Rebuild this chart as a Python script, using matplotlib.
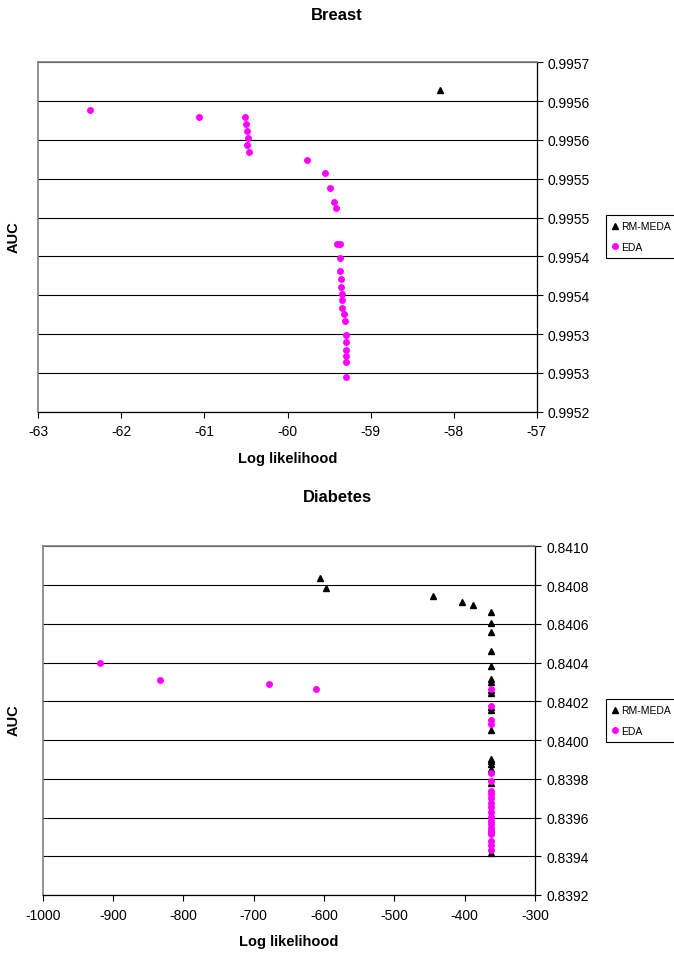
import matplotlib
matplotlib.use("Agg")
import matplotlib.pyplot as plt
import numpy as np

plt.rcParams['font.family'] = ['Liberation Sans', 'DejaVu Sans']

# Breast: log likelihood vs AUC
breast_rm_x = [-58.16]
breast_rm_y = [0.995614]
breast_eda_x = [-62.38, -61.07, -60.51, -60.50, -60.49, -60.48, -60.49, -60.46,
                -59.76, -59.55, -59.49, -59.44, -59.42, -59.40, -59.37,
                -59.37, -59.37, -59.36, -59.36, -59.34, -59.34, -59.34,
                -59.32, -59.31, -59.30, -59.30, -59.30, -59.30, -59.30, -59.30]
breast_eda_y = [0.995588, 0.995579, 0.995579, 0.995571, 0.995561, 0.995552, 0.995544, 0.995534,
                0.995524, 0.995507, 0.995488, 0.995470, 0.995462, 0.995416, 0.995416,
                0.995398, 0.995381, 0.995371, 0.995361, 0.995352, 0.995344, 0.995334,
                0.995326, 0.995317, 0.995299, 0.995290, 0.995280, 0.995272, 0.995264, 0.995245]
breast_yticks = [0.99520, 0.99525, 0.99530, 0.99535, 0.99540,
                 0.99545, 0.99550, 0.99555, 0.99560, 0.99565]
breast_ylabels = ['0.9952', '0.9953', '0.9953', '0.9954', '0.9954',
                  '0.9955', '0.9955', '0.9956', '0.9956', '0.9957']
breast_xticks = [-63, -62, -61, -60, -59, -58, -57]

# Diabetes: log likelihood vs AUC
diab_rm_x = [-605.7, -597.6, -444.6, -403.8, -388.6,
             -363, -363, -363, -363, -363, -363, -363, -363, -363, -363, -363, -363,
             -363, -363, -363, -363, -363, -363, -363]
diab_rm_y = [0.840835, 0.840786, 0.840742, 0.840714, 0.840699,
             0.840659, 0.840604, 0.840556, 0.840458, 0.840384, 0.840315, 0.840301, 0.840258,
             0.840243, 0.840169, 0.840155, 0.840052, 0.839902, 0.839890, 0.839876, 0.839851,
             0.839777, 0.839540, 0.839415]
diab_eda_x = [-918.5, -833.6, -677.8, -611.8,
              -363, -363, -363, -363, -363, -363, -363, -363, -363, -363, -363,
              -363, -363, -363, -363, -363, -363, -363, -363, -363, -363]
diab_eda_y = [0.840396, 0.840311, 0.840289, 0.840265,
              0.840263, 0.840177, 0.840105, 0.840083, 0.839828, 0.839790, 0.839738,
              0.839721, 0.839699, 0.839675, 0.839653, 0.839627, 0.839603, 0.839580,
              0.839567, 0.839546, 0.839529, 0.839515, 0.839480, 0.839458, 0.839432]
diab_yticks = [0.8392, 0.8394, 0.8396, 0.8398, 0.8400,
               0.8402, 0.8404, 0.8406, 0.8408, 0.8410]
diab_ylabels = ['0.8392', '0.8394', '0.8396', '0.8398', '0.8400',
                '0.8402', '0.8404', '0.8406', '0.8408', '0.8410']
diab_xticks = [-1000, -900, -800, -700, -600, -500, -400, -300]


def style_axes(ax, xticks, yticks, ylabels):
    ax.set_xlim(xticks[0], xticks[-1])
    ax.set_ylim(yticks[0], yticks[-1])
    ax.set_xticks(xticks)
    ax.set_xticklabels([str(t) for t in xticks])
    ax.set_yticks(yticks)
    ax.set_yticklabels(ylabels)
    ax.yaxis.tick_right()
    ax.tick_params(axis='both', direction='out', length=4, width=0.8,
                   labelsize=10, color='black')
    ax.tick_params(axis='y', pad=4)
    ax.tick_params(axis='x', pad=5)
    ax.grid(True, axis='y', color='black', linewidth=0.8)
    ax.set_axisbelow(True)
    for side in ('left', 'top'):
        ax.spines[side].set_color('#808080')
        ax.spines[side].set_linewidth(1.2)
    for side in ('right', 'bottom'):
        ax.spines[side].set_color('black')
        ax.spines[side].set_linewidth(0.9)
    ax.set_xlabel('Log likelihood', fontsize=10.5, fontweight='bold', labelpad=9)


W, H = 674, 954
fig = plt.figure(figsize=(W / 100, H / 100), dpi=100)

ax1 = fig.add_axes([38.3 / W, 1 - 412.7 / H, 498.4 / W, 349.4 / H])
ax2 = fig.add_axes([42.7 / W, 1 - 896 / H, 492.3 / W, 348.7 / H])

panels = [
    (ax1, breast_rm_x, breast_rm_y, breast_eda_x, breast_eda_y,
     breast_xticks, breast_yticks, breast_ylabels, 'Breast', 15, 237, 216),
    (ax2, diab_rm_x, diab_rm_y, diab_eda_x, diab_eda_y,
     diab_xticks, diab_yticks, diab_ylabels, 'Diabetes', 498, 720, 700),
]

for ax, rx, ry, ex, ey, xt, yt, yl, title, ty, ay, ly in panels:
    style_axes(ax, xt, yt, yl)
    ax.plot(rx, ry, linestyle='none', marker='^', markersize=4.8,
            color='black', label='RM-MEDA', clip_on=False, zorder=3)
    ax.plot(ex, ey, linestyle='none', marker='o', markersize=5,
            color='#FF00FF', markeredgewidth=0, label='EDA', clip_on=False, zorder=3)
    fig.text(337 / W, 1 - ty / H, title, ha='center', va='center',
             fontsize=12, fontweight='bold')
    fig.text(14 / W, 1 - ay / H, 'AUC', ha='center', va='center',
             rotation=90, fontsize=10.5, fontweight='bold')
    leg = ax.legend(loc='upper left', bbox_to_anchor=(606 / W, 1 - ly / H),
                    bbox_transform=fig.transFigure, fontsize=7.5, frameon=True,
                    fancybox=False, framealpha=1, edgecolor='black',
                    borderaxespad=0, borderpad=0.6, handlelength=0.5,
                    handletextpad=0.35, labelspacing=1.0)
    leg.get_frame().set_linewidth(0.8)

fig.savefig('out.png', dpi=100)
